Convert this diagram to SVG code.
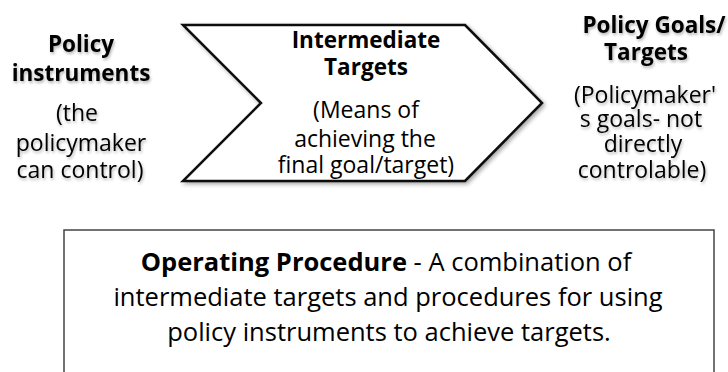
<svg xmlns="http://www.w3.org/2000/svg" width="728" height="372" viewBox="0 0 728 372">
  <defs>
    <filter id="softShadow" x="-10%" y="-20%" width="130%" height="150%">
      <feGaussianBlur in="SourceAlpha" stdDeviation="2"/>
      <feOffset dx="2" dy="2" result="b"/>
      <feComponentTransfer><feFuncA type="linear" slope="0.35"/></feComponentTransfer>
      <feMerge><feMergeNode/><feMergeNode in="SourceGraphic"/></feMerge>
    </filter>
    <filter id="textGlow" x="-10%" y="-30%" width="120%" height="160%">
      <feGaussianBlur in="SourceAlpha" stdDeviation="1.6"/>
      <feOffset dx="1" dy="2"/>
      <feComponentTransfer><feFuncA type="linear" slope="0.3"/></feComponentTransfer>
      <feMerge><feMergeNode/><feMergeNode in="SourceGraphic"/></feMerge>
    </filter>
  </defs>
  <style>
    text { font-family: "Open Sans", "Noto Sans", sans-serif; fill: #000; text-anchor: middle; }
    .title { font-size: 22.5px; font-weight: bold; }
    .body { font-size: 23px; }
    .note { font-size: 25.5px; }
    .shape { fill: #fff; stroke: #111; stroke-width: 2.5; stroke-linejoin: miter; }
    .box { fill: #fff; stroke: #444; stroke-width: 1.5; }
  </style>
  <rect width="728" height="372" fill="#fff"/>

  <g id="policy-instruments" filter="url(#textGlow)">
    <text class="title" x="81" y="52">Policy</text>
    <text class="title" x="81" y="81">instruments</text>
    <text class="body" x="77" y="121">(the</text>
    <text class="body" x="81" y="151">policymaker</text>
    <text class="body" x="80" y="178">can control)</text>
  </g>

  <g id="intermediate-targets">
    <polygon class="shape" filter="url(#softShadow)" points="183,25 465,25 542,103 465,181 183,181 261,103"/>
    <text class="title" x="366" y="48">Intermediate</text>
    <text class="title" x="366" y="75">Targets</text>
    <text class="body" x="366" y="118">(Means of</text>
    <text class="body" x="365" y="147">achieving the</text>
    <text class="body" x="366" y="173">final goal/target)</text>
  </g>

  <g id="policy-goals" filter="url(#textGlow)">
    <text class="title" x="654" y="33">Policy Goals/</text>
    <text class="title" x="646" y="60">Targets</text>
    <text class="body" x="645" y="103">(Policymaker'</text>
    <text class="body" x="641" y="127">s goals- not</text>
    <text class="body" x="643" y="152">directly</text>
    <text class="body" x="642" y="178">controlable)</text>
  </g>

  <g id="operating-procedure">
    <rect class="box" x="64" y="230" width="650" height="160"/>
    <text class="note" x="386" y="271"><tspan font-weight="bold">Operating Procedure</tspan> - A combination of</text>
    <text class="note" x="388" y="306">intermediate targets and procedures for using</text>
    <text class="note" x="389" y="341">policy instruments to achieve targets.</text>
  </g>
</svg>
